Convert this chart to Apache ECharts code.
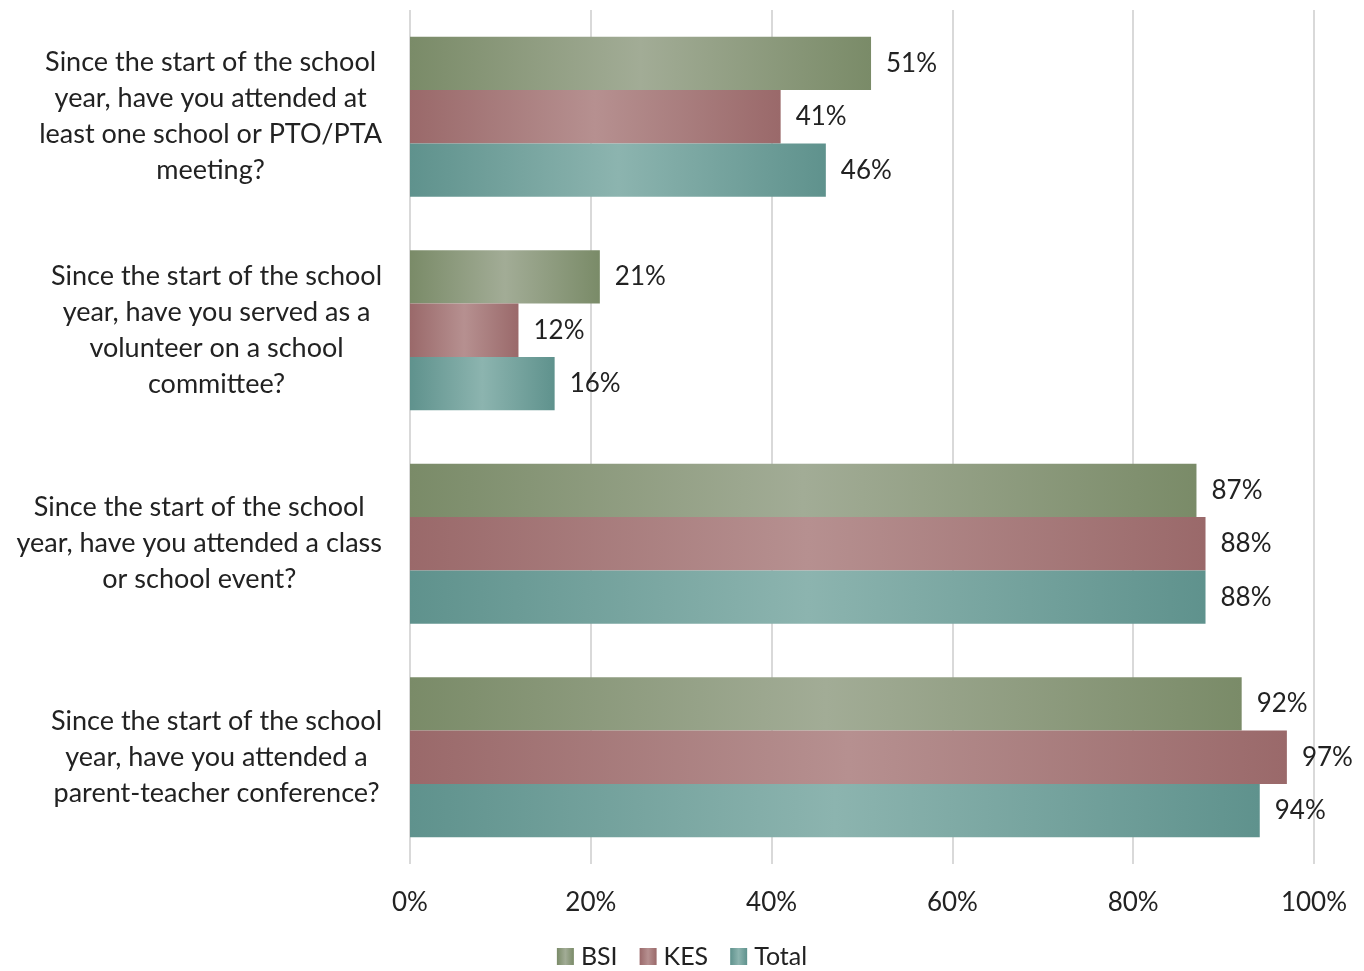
<!DOCTYPE html>
<html>
<head>
<meta charset="utf-8">
<script src="https://cdn.jsdelivr.net/npm/echarts@6/dist/echarts.min.js"></script>
<style>
  html, body { margin: 0; padding: 0; background: #fff; }
  #chart { width: 1364px; height: 971px; }
</style>
</head>
<body>
<div id="chart"></div>
<script>
// Survey questions (top to bottom)
const questions = [
  'Since the start of the school\nyear, have you attended at\nleast one school or PTO/PTA\nmeeting?',
  'Since the start of the school\nyear, have you served as a\nvolunteer on a school\ncommittee?',
  'Since the start of the school\nyear, have you attended a class\nor school event?',
  'Since the start of the school\nyear, have you attended a\nparent-teacher conference?'
];

// Percent answering "yes"
const bsiValues = [51, 21, 87, 92];
const kesValues = [41, 12, 88, 97];
const totalValues = [46, 16, 88, 94];

const seriesNames = ['BSI', 'KES', 'Total'];
const xTicks = [0, 20, 40, 60, 80, 100];

const FONT = 'Lato, "Open Sans", sans-serif';

// Horizontal shading: darker edges, lighter middle
function shade(edge, mid) {
  return new echarts.graphic.LinearGradient(0, 0, 1, 0, [
    { offset: 0, color: edge },
    { offset: 0.5, color: mid },
    { offset: 1, color: edge }
  ]);
}

const palette = [
  { edge: '#7a8b68', mid: '#a2ac96', flat: '#8f9e80' },
  { edge: '#9a696a', mid: '#b69090', flat: '#a87c7d' },
  { edge: '#5f928d', mid: '#8cb4af', flat: '#77a5a0' }
];

const valueSets = [bsiValues, kesValues, totalValues];

const series = seriesNames.map((name, i) => ({
  name: name,
  type: 'bar',
  data: valueSets[i],
  barGap: '0%',
  barCategoryGap: '25%',
  itemStyle: { color: shade(palette[i].edge, palette[i].mid) },
  label: {
    show: true,
    position: 'right',
    distance: 15,
    formatter: p => p.value + '%',
    fontFamily: FONT,
    fontSize: 26,
    color: '#222'
  }
}));

const chart = echarts.init(document.getElementById('chart'), null, { renderer: 'canvas' });
chart.setOption({
  animation: false,
  color: palette.map(p => p.flat),
  grid: { left: 410, right: 50, top: 10, bottom: 107, containLabel: false },
  legend: {
    data: seriesNames.map((n, i) => ({
      name: n,
      itemStyle: { color: shade(palette[i].edge, palette[i].mid) }
    })),
    bottom: -3,
    left: 'center',
    icon: 'rect',
    itemWidth: 17,
    itemHeight: 17,
    itemGap: 22,
    textStyle: { fontFamily: FONT, fontSize: 25, color: '#222', padding: [0, 0, 0, 2] }
  },
  xAxis: {
    type: 'value',
    min: 0,
    max: 100,
    interval: 20,
    axisLine: { show: false },
    axisTick: { show: false },
    splitLine: { show: true, lineStyle: { color: '#d9d9d9', width: 2 } },
    axisLabel: {
      formatter: v => (xTicks.includes(v) ? v + '%' : ''),
      fontFamily: FONT,
      fontSize: 26,
      color: '#222',
      margin: 26
    }
  },
  yAxis: {
    type: 'category',
    data: questions,
    inverse: true,
    axisLine: { show: false },
    axisTick: { show: false },
    axisLabel: {
      // block sits flush right against the plot, each line centred inside it
      align: 'right',
      margin: 28,
      formatter: v => v.split('\n').map(line => '{c|' + line + '}').join('\n'),
      rich: {
        c: {
          align: 'center',
          fontFamily: FONT,
          fontSize: 27,
          lineHeight: 36,
          color: '#222'
        }
      }
    }
  },
  series: series
});
</script>
</body>
</html>
